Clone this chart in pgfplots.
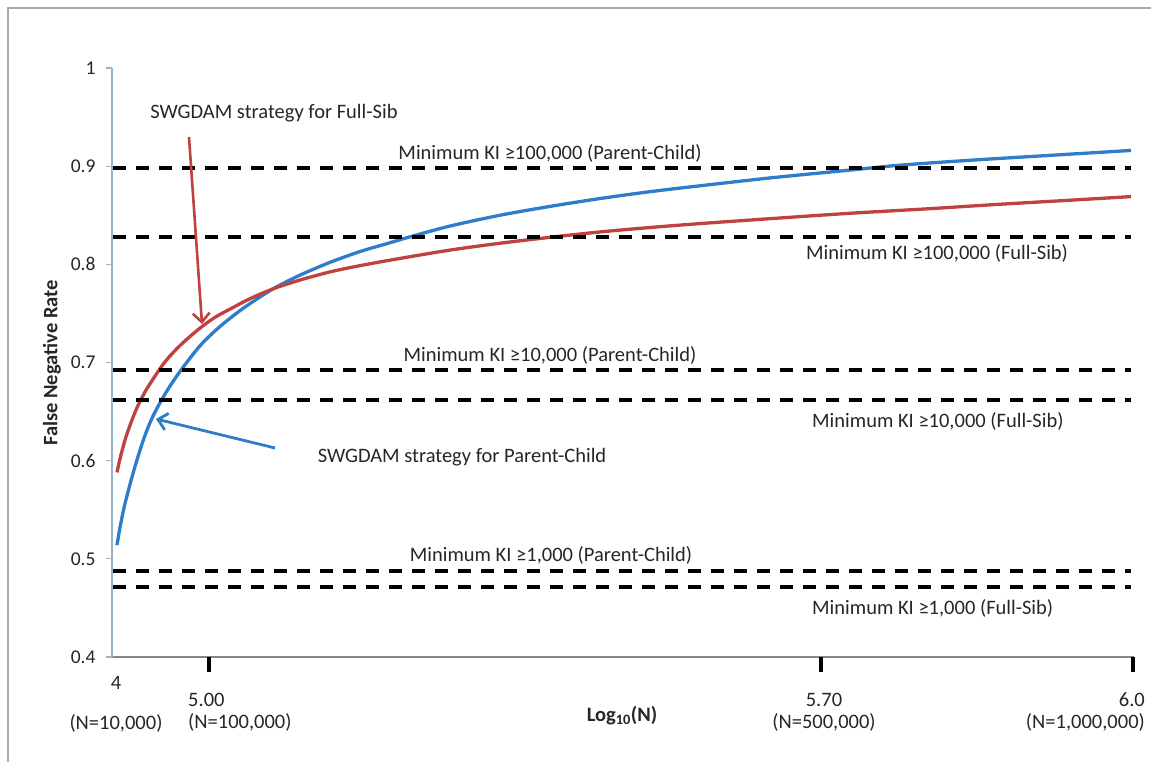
\documentclass[border=0pt]{standalone}
\usepackage{pgfplots}
\pgfplotsset{compat=1.18}
\usepackage{fontspec}
\setmainfont{Carlito}
\usetikzlibrary{arrows.meta}
\definecolor{cblue}{RGB}{46,125,202}
\definecolor{cred}{RGB}{192,66,62}
\definecolor{yaxc}{RGB}{150,180,200}
\definecolor{xaxc}{RGB}{135,135,135}
\definecolor{framec}{RGB}{165,170,175}
\newcommand\lbl{\fontsize{20.5}{24}\selectfont}

\begin{document}
\begin{tikzpicture}[x=1pt,y=1pt]
\useasboundingbox (0,0) rectangle (1151,762);
\draw[framec, line width=1.5pt] (8,0) -- (8,754) -- (1151,754);
\begin{axis}[
  at={(112pt,105pt)}, anchor=south west,
  scale only axis, width=1022pt, height=589pt,
  xmin=112, xmax=1134, ymin=0.4, ymax=1,
  axis x line*=bottom, axis y line*=left,
  x axis line style={xaxc, line width=1.5pt, -},
  y axis line style={yaxc, line width=1.5pt, -},
  xtick=\empty,
  ytick={0.4,0.5,0.6,0.7,0.8,0.9,1},
  ytick style={yaxc, line width=1.2pt},
  tick align=outside, major tick length=6pt,
  /pgf/number format/assume math mode=true,
  yticklabel style={font=\fontsize{19.5}{22}\selectfont, xshift=-7pt, text=black!85},
  clip=false,
]
% Parent-Child (blue)
\addplot[cblue, line width=3.3pt, smooth, tension=0.5] coordinates {
(117,0.514) (120,0.532) (124,0.552) (129,0.572) (135,0.594) (143,0.620)
(151,0.641) (160,0.659) (170,0.676) (183,0.695) (200,0.717) (217,0.734)
(235,0.749) (250,0.760) (273,0.775) (300,0.789) (330,0.802) (360,0.813)
(390,0.822) (410,0.828) (450,0.839) (500,0.850) (550,0.859) (600,0.867)
(650,0.874) (700,0.880) (770,0.888) (850,0.896) (900,0.901) (970,0.906)
(1050,0.911) (1131,0.916)};
% Full-Sib (red)
\addplot[cred, line width=3.3pt, smooth, tension=0.5] coordinates {
(117,0.588) (120,0.602) (125,0.621) (130,0.636) (137,0.654) (145,0.670)
(153,0.683) (163,0.698) (173,0.710) (185,0.722) (200,0.735) (215,0.746)
(233,0.756) (250,0.765) (273,0.775) (300,0.784) (333,0.793) (367,0.800)
(400,0.806) (450,0.8145) (500,0.8215) (550,0.8275) (600,0.833) (650,0.8375)
(700,0.8415) (770,0.8465) (850,0.852) (930,0.8567) (1000,0.8612)
(1070,0.8653) (1131,0.869)};
% Minimum KI thresholds
\addplot[black, line width=3.8pt, dash pattern=on 13pt off 10pt] coordinates {(113,0.898) (1131,0.898)};
\addplot[black, line width=3.8pt, dash pattern=on 13pt off 10pt] coordinates {(113,0.828) (1131,0.828)};
\addplot[black, line width=3.8pt, dash pattern=on 13pt off 10pt] coordinates {(113,0.692) (1131,0.692)};
\addplot[black, line width=3.8pt, dash pattern=on 13pt off 10pt] coordinates {(113,0.662) (1131,0.662)};
\addplot[black, line width=3.8pt, dash pattern=on 13pt off 10pt] coordinates {(113,0.488) (1131,0.488)};
\addplot[black, line width=3.8pt, dash pattern=on 13pt off 10pt] coordinates {(113,0.471) (1131,0.471)};
\end{axis}
% x tick marks
\foreach \xx in {209,821,1133} \draw[black, line width=4pt] (\xx,105) -- (\xx,90);
% x tick labels
\begin{scope}[every node/.style={font=\lbl, text=black!85, inner sep=0pt}]
\node[anchor=center] at (116,79) {4};
\node[anchor=center] at (116,39) {(N=10,000)};
\node[anchor=west] at (188,62) {5.00};
\node[anchor=west] at (188,40) {(N=100,000)};
\node[anchor=center] at (824,62) {5.70};
\node[anchor=center] at (824,40) {(N=500,000)};
\node[anchor=east] at (1145,62) {6.0};
\node[anchor=east] at (1145,40) {(N=1,000,000)};
\node[anchor=center, font=\lbl\bfseries] at (622,46) {Log\textsubscript{10}(N)};
\node[anchor=center, font=\lbl\bfseries, rotate=90] at (52,399) {False Negative Rate};
% threshold labels
\node[anchor=center] at (550,609) {Minimum KI ≥100,000 (Parent-Child)};
\node[anchor=west] at (806,509) {Minimum KI ≥100,000 (Full-Sib)};
\node[anchor=center] at (550,407) {Minimum KI ≥10,000 (Parent-Child)};
\node[anchor=west] at (812,341) {Minimum KI ≥10,000 (Full-Sib)};
\node[anchor=center] at (551,207) {Minimum KI ≥1,000 (Parent-Child)};
\node[anchor=west] at (812,154) {Minimum KI ≥1,000 (Full-Sib)};
% strategy labels
\node[anchor=center] at (274,649) {SWGDAM strategy for Full-Sib};
\node[anchor=center] at (462,305) {SWGDAM strategy for Parent-Child};
\end{scope}
% arrows
\draw[cred, line width=2.6pt, -{Straight Barb[length=9pt,width=17pt]}] (189,625) -- (202,438);
\draw[cblue, line width=2.8pt, -{Straight Barb[length=9pt,width=17pt]}] (275,314) -- (156,343);
\end{tikzpicture}
\end{document}
